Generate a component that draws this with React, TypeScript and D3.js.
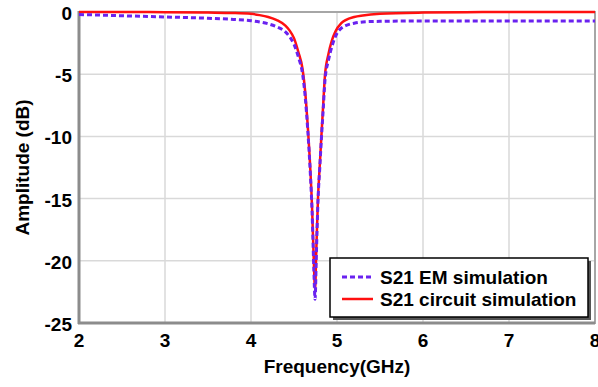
import { useEffect, useRef } from "react";
import * as d3 from "d3";

// frequency points (GHz)
const freq = [
  2, 2.5, 3, 3.5, 3.8, 4.0, 4.1, 4.2, 4.3, 4.4, 4.45, 4.5, 4.55, 4.6, 4.63,
  4.66, 4.69, 4.71, 4.73, 4.745, 4.76, 4.78, 4.8, 4.82, 4.84, 4.86, 4.9, 4.94,
  4.98, 5.05, 5.1, 5.2, 5.3, 5.5, 6, 6.5, 7, 7.5, 8,
];

// S21 EM simulation (dB)
const emS21 = [
  -0.2, -0.3, -0.4, -0.5, -0.6, -0.7, -0.8, -0.95, -1.2, -1.6, -2.0, -2.6,
  -3.6, -5.0, -6.8, -9.5, -13.0, -16.0, -20.5, -23.1, -19.5, -15.0, -12.5,
  -10.0, -7.8, -5.5, -3.9, -2.8, -2.0, -1.3, -1.1, -0.9, -0.8, -0.75, -0.72,
  -0.72, -0.72, -0.72, -0.72,
];

// S21 circuit simulation (dB)
const circuitS21 = [
  0, 0, -0.02, -0.05, -0.08, -0.15, -0.25, -0.4, -0.65, -1.1, -1.5, -2.1,
  -3.2, -4.6, -6.4, -9.2, -12.7, -15.7, -20.0, -22.3, -19.0, -14.8, -12.3,
  -9.8, -7.4, -5.1, -3.4, -2.3, -1.6, -0.9, -0.65, -0.4, -0.28, -0.15, -0.05,
  -0.02, 0, 0, 0,
];

const xTicks = [2, 3, 4, 5, 6, 7, 8];
const yTicks = [0, -5, -10, -15, -20, -25];

const series = [
  { name: "S21 EM simulation", values: emS21, color: "#6a22f0", dash: "5,3", width: 3 },
  { name: "S21 circuit simulation", values: circuitS21, color: "#ff1010", dash: null, width: 2.5 },
];

export default function App() {
  const svgRef = useRef<SVGSVGElement>(null);

  useEffect(() => {
    if (!svgRef.current) return;
    const svg = d3.select(svgRef.current);
    svg.selectAll("*").remove();

    const width = 598;
    const height = 387;
    const margin = { top: 12, right: 3, bottom: 64, left: 79 };
    const x = d3.scaleLinear().domain([2, 8]).range([margin.left, width - margin.right]);
    const y = d3.scaleLinear().domain([-25, 0]).range([height - margin.bottom, margin.top]);
    const font = "'Liberation Sans', Arial, sans-serif";
    const fs = "19px";

    // grid
    const grid = svg.append("g");
    xTicks.forEach((t) => {
      grid.append("line")
        .attr("x1", x(t)).attr("x2", x(t))
        .attr("y1", y(0)).attr("y2", y(-25))
        .attr("stroke", "#d9d9d9").attr("stroke-width", 1.5);
    });
    yTicks.forEach((t) => {
      grid.append("line")
        .attr("x1", x(2)).attr("x2", x(8))
        .attr("y1", y(t)).attr("y2", y(t))
        .attr("stroke", "#d9d9d9").attr("stroke-width", 1.5);
    });

    // frame
    svg.append("rect")
      .attr("x", x(2)).attr("y", y(0))
      .attr("width", x(8) - x(2)).attr("height", y(-25) - y(0))
      .attr("fill", "none").attr("stroke", "#a6a6a6").attr("stroke-width", 2);
    svg.append("line")
      .attr("x1", x(2)).attr("x2", x(2)).attr("y1", y(0) - 1).attr("y2", y(-25) + 1)
      .attr("stroke", "#8c8c8c").attr("stroke-width", 3);
    svg.append("line")
      .attr("x1", x(2) - 1).attr("x2", x(8)).attr("y1", y(-25)).attr("y2", y(-25))
      .attr("stroke", "#8c8c8c").attr("stroke-width", 3);

    // curves
    const line = d3.line<number>()
      .x((_, i) => x(freq[i]))
      .y((d) => y(d))
      .curve(d3.curveMonotoneX);

    [...series].reverse().forEach((s) => {
      svg.append("path")
        .datum(s.values)
        .attr("fill", "none")
        .attr("stroke", s.color)
        .attr("stroke-width", s.width)
        .attr("stroke-dasharray", s.dash)
        .attr("d", line);
    });

    // tick labels
    svg.append("g").selectAll("text").data(xTicks).join("text")
      .attr("x", (d) => x(d)).attr("y", 347)
      .attr("text-anchor", "middle")
      .style("font-family", font).style("font-size", fs).style("font-weight", "bold")
      .text((d) => d);
    svg.append("g").selectAll("text").data(yTicks).join("text")
      .attr("x", 72).attr("y", (d) => y(d) + 8)
      .attr("text-anchor", "end")
      .style("font-family", font).style("font-size", fs).style("font-weight", "bold")
      .text((d) => d);

    // axis titles
    svg.append("text")
      .attr("x", 337).attr("y", 373)
      .attr("text-anchor", "middle")
      .style("font-family", font).style("font-size", fs).style("font-weight", "bold")
      .text("Frequency(GHz)");
    svg.append("text")
      .attr("transform", `translate(29,${(y(0) + y(-25)) / 2}) rotate(-90)`)
      .attr("text-anchor", "middle")
      .style("font-family", font).style("font-size", fs).style("font-weight", "bold")
      .text("Amplitude (dB)");

    // legend
    const lg = svg.append("g").attr("transform", "translate(330,258)");
    lg.append("rect").attr("x", 3).attr("y", 3).attr("width", 258).attr("height", 59).attr("fill", "#555");
    lg.append("rect").attr("width", 258).attr("height", 59).attr("fill", "#fff").attr("stroke", "#000").attr("stroke-width", 1.5);
    series.forEach((s, i) => {
      const yy = 19 + i * 22;
      lg.append("line")
        .attr("x1", 12).attr("x2", 43).attr("y1", yy).attr("y2", yy)
        .attr("stroke", s.color).attr("stroke-width", s.width)
        .attr("stroke-dasharray", s.dash);
      lg.append("text")
        .attr("x", 50).attr("y", yy + 7)
        .style("font-family", font).style("font-size", fs).style("font-weight", "bold")
        .text(s.name);
    });
  }, []);

  return (
    <svg
      ref={svgRef}
      width={598}
      height={387}
      style={{ position: "absolute", left: 0, top: 0, background: "#fff" }}
    />
  );
}
